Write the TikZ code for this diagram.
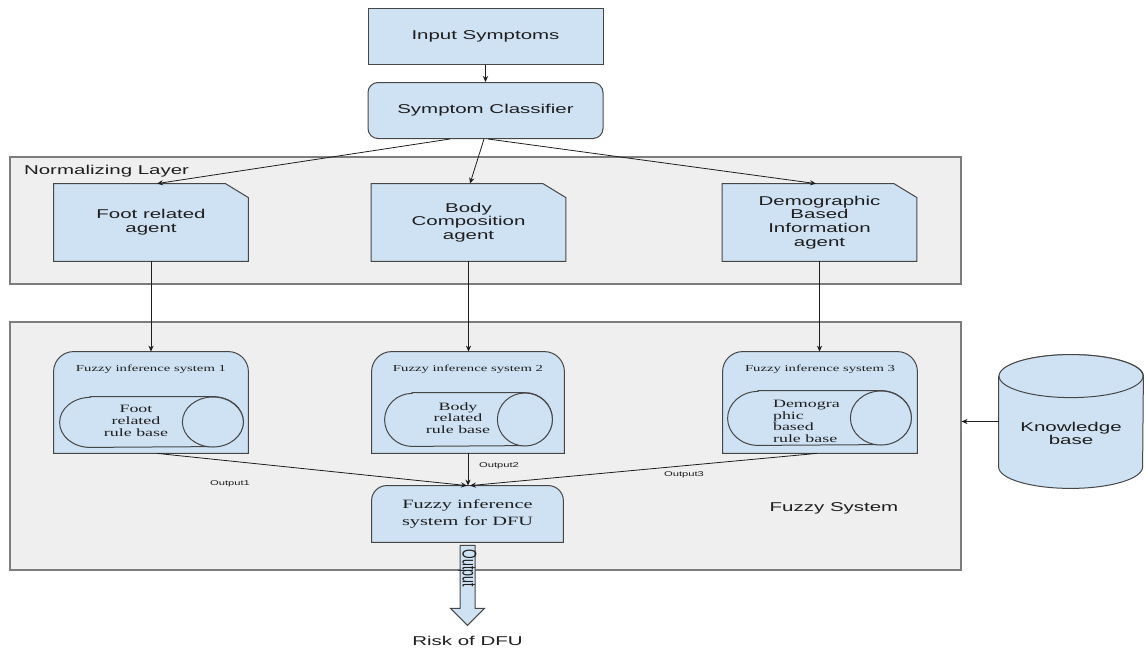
\documentclass[tikz,border=0pt]{standalone}
\usepackage{fontspec}
\usepackage{graphicx}
\newfontfamily\dsans{Liberation Sans}[FakeStretch=1.6]
\newfontfamily\dserif{Liberation Serif}[FakeStretch=1.6]
\newfontfamily\psans{Liberation Sans}
\usetikzlibrary{shapes,arrows.meta,positioning,calc}
\definecolor{boxblue}{RGB}{207,226,243}
\definecolor{layergray}{RGB}{239,239,239}
\definecolor{edgegray}{RGB}{125,125,125}
\definecolor{edgedark}{RGB}{70,70,70}
\definecolor{inkblack}{RGB}{30,30,30}
\pgfdeclarelayer{back}
\pgfdeclarelayer{mid}
\pgfsetlayers{back,mid,main}

\begin{document}
\begin{tikzpicture}[
    x=0.5pt, y=-0.5pt,
    every node/.style={text=inkblack},
    mainfont/.style={font=\dsans\fontsize{6.4}{6.85}\selectfont},
    titlefont/.style={font=\dserif\fontsize{4.6}{5}\selectfont},
    rulefont/.style={font=\dserif\fontsize{5.6}{5.85}\selectfont},
    dfufont/.style={font=\dserif\fontsize{6.35}{6.6}\selectfont},
    outlabel/.style={font=\dsans\fontsize{3.5}{4}\selectfont},
    plainbox/.style={rectangle, draw=edgedark, fill=boxblue, line width=0.5pt,
                     minimum width=117.5pt, minimum height=28pt, align=center, mainfont},
    agent/.style={rectangle, minimum width=97pt, minimum height=38.5pt,
                  align=center, mainfont},
    layer/.style={rectangle, draw=edgegray, fill=layergray, line width=0.6pt},
    fisarea/.style={rectangle, inner sep=0pt, minimum height=50.5pt},
    fisline/.style={draw=edgedark, fill=boxblue, line width=0.5pt},
    pill/.style={rectangle, inner sep=0pt},
    link/.style={-{Stealth[length=3pt,width=2.6pt]}, draw=inkblack, line width=0.4pt}
]
\useasboundingbox (0,0) rectangle (1146,648);

% Layers in the background
\begin{pgfonlayer}{back}
\node[layer, minimum width=475.5pt, minimum height=63.5pt] (norm) at (485.5,220.5) {};
\node[layer, minimum width=475.5pt, minimum height=124pt] (fuzzy) at (485.5,446) {};
\end{pgfonlayer}
\node[mainfont, anchor=west] (normlab) at (17,171) {Normalizing Layer};
\node[mainfont] (fuzzylab) at (834,508) {Fuzzy System};

% Input and classifier
\node[plainbox] (inp) at (485.5,36) {Input Symptoms};
\node[plainbox, rounded corners=5pt] (cls) at (485.5,110.5) {Symptom Classifier};

% Agents of the normalizing layer, top right corner cut off
\node[agent] (foot) at (151,222.5) {Foot related\\agent};
\node[agent] (body) at (468.5,222.5) {Body\\Composition\\agent};
\node[agent] (demo) at (819.5,222.5) {Demographic\\Based\\Information\\agent};
\begin{pgfonlayer}{mid}
\foreach \n in {foot, body, demo}
  \path[fisline] (\n.south west) -- (\n.north west) -- ([xshift=-11.5pt]\n.north east)
    -- ([yshift=-7pt]\n.north east) -- (\n.south east) -- cycle;
\end{pgfonlayer}

% Fuzzy inference systems, top corners rounded
\node[fisarea, minimum width=97pt] (fis1) at (151,402.5) {};
\node[fisarea, minimum width=96pt] (fis2) at (468,402.5) {};
\node[fisarea, minimum width=97pt] (fis3) at (820,402.5) {};
\node[fisarea, minimum width=95.5pt, minimum height=28pt, dfufont, align=center]
  (dfu) at (467.5,514) {\raisebox{-1.5pt}{\shortstack{Fuzzy inference\\system for DFU}}};
\begin{pgfonlayer}{mid}
\foreach \n/\r in {fis1/10pt, fis2/10pt, fis3/10pt, dfu/7.5pt}
  \path[fisline] (\n.south west) -- ([yshift=-\r]\n.north west)
    arc[start angle=180, end angle=90, radius=\r]
    -- ([xshift=-\r]\n.north east)
    arc[start angle=90, end angle=0, radius=\r]
    -- (\n.south east) -- cycle;
\end{pgfonlayer}
\foreach \n/\k in {fis1/1, fis2/2, fis3/3}
  \node[titlefont] (t\k) at ($(\n.north)+(0,18)$) {Fuzzy inference system \k};

% Rule bases, drawn as lying cylinders
\node[pill, minimum width=91.5pt, minimum height=25pt] (pill1) at (151.5,422) {};
\node[pill, minimum width=83.5pt, minimum height=26.5pt] (pill2) at (468.5,419.5) {};
\node[pill, minimum width=91.5pt, minimum height=27pt] (pill3) at (819.5,418) {};
\foreach \n/\a/\b in {pill1/15.25pt/12.5pt, pill2/13.75pt/13.25pt, pill3/15.25pt/13.5pt} {
  \path[fisline] ([xshift=\a]\n.north west) -- ([xshift=-\a]\n.north east)
    arc[start angle=90, end angle=-90, x radius=\a, y radius=\b]
    -- ([xshift=\a]\n.south west)
    arc[start angle=270, end angle=90, x radius=\a, y radius=\b] -- cycle;
  \draw[fisline] ([xshift=-\a]\n.east) ellipse [x radius=\a, y radius=\b];
}
\node[rulefont, align=center] (rule1) at (136,421) {Foot\\related\\rule base};
\node[rulefont, align=center] (rule2) at (458,418) {Body\\related\\rule base};
\node[rulefont, align=left, anchor=west] (rule3) at (766,421.5) {Demogra\\phic\\based\\rule base};

% Knowledge base, standing cylinder
\node[pill, minimum width=72pt, minimum height=66.5pt] (know) at (1071,421.5) {};
\path[fisline] ([yshift=-10.75pt]know.north west) -- ([yshift=10.75pt]know.south west)
  arc[start angle=180, end angle=360, x radius=36pt, y radius=10.75pt]
  -- ([yshift=-10.75pt]know.north east)
  arc[start angle=0, end angle=180, x radius=36pt, y radius=10.75pt] -- cycle;
\draw[fisline] ([yshift=-10.75pt]know.north) ellipse [x radius=36pt, y radius=10.75pt];
\node[mainfont, align=center] (knowtext) at ($(know.center)+(0,12)$) {Knowledge\\base};

% Output arrow
\begin{pgfonlayer}{mid}
\path[fisline] ($(dfu.south)+(-7.5,3)$) -- ++(15,0) -- ++(0,63) -- ++(9.5,0)
  -- ++(-17,17) -- ++(-17,-17) -- ++(9.5,0) -- cycle;
\end{pgfonlayer}
\coordinate (tip) at ($(dfu.south)+(0,83)$);
\node[rotate=-90, inner sep=0pt] (outtext) at ($(dfu.south)+(0,26)$)
  {\psans\fontsize{6.2}{7}\selectfont\scalebox{1}[1.6]{Output}};
\node[mainfont] (risk) at ($(tip)+(0,16)$) {Risk of DFU};

% Connectors
\draw[link] (inp) -- (cls);
\draw[link] ($(cls.south)+(-35.5,0)$) -- ($(foot.north)+(6,0)$);
\draw[link] ($(cls.south)+(-1.5,0)$) -- ($(body.north)+(1.5,0)$);
\draw[link] ($(cls.south)+(2.5,0)$) -- ($(demo.north)+(-3.5,0)$);
\draw[link] (foot.south) -- (foot.south |- fis1.north);
\draw[link] (body.south) -- (body.south |- fis2.north);
\draw[link] (demo.south) -- (demo.south |- fis3.north);
\draw[link] ($(fis1.south)+(6,0)$) -- ($(dfu.north)+(-0.5,0)$);
\draw[link] (fis2.south) -- (fis2.south |- dfu.north);
\draw[link] ($(fis3.south)+(-3,0)$) -- ($(dfu.north)+(2.5,0)$);
\draw[link] (know.west) -- (know.west -| fuzzy.east);

% Output labels
\node[outlabel] (o1) at (230,484) {Output1};
\node[outlabel] (o2) at (499,466) {Output2};
\node[outlabel] (o3) at (684,475) {Output3};

\end{tikzpicture}
\end{document}
